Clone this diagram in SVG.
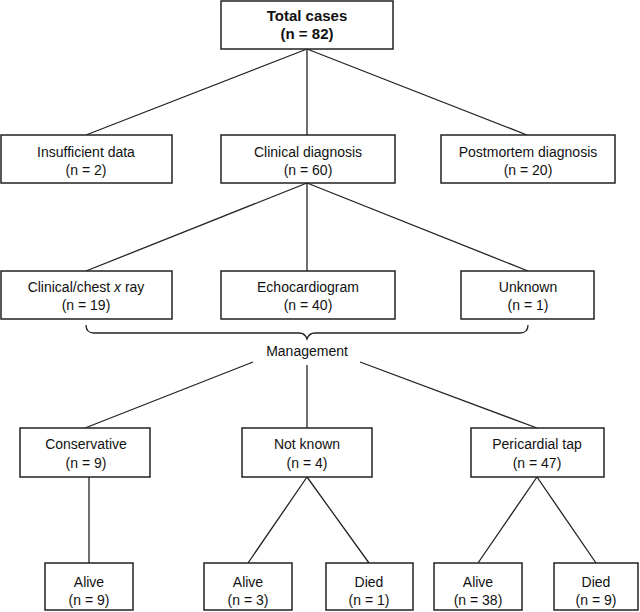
<svg xmlns="http://www.w3.org/2000/svg" width="640" height="612" viewBox="0 0 640 612">
<style>
.box{fill:#fff;stroke:#222;stroke-width:1.5}
.t{font-family:"Liberation Sans",Arial,sans-serif;font-size:14px;fill:#111;text-anchor:middle}
.b{font-weight:bold;font-size:15px}
.c{fill:none;stroke:#222;stroke-width:1.3}
</style>
<rect width="640" height="612" fill="#fff"/>
<g id="connectors">
<path class="c" d="M307,49 L86,135 M307,49 L307,135 M307,49 L527,135"/>
<path class="c" d="M307,183 L86,271 M307,183 L307,271 M307,183 L528,271"/>
<path class="c" d="M86,325 Q86,333 94,333 L299,333 Q305,333 307,339 Q309,333 315,333 L520,333 Q528,333 528,325"/>
<path class="c" d="M253,362 L85,428 M307,365 L307,428 M360,362 L537,428"/>
<path class="c" d="M89,477 L89,563"/>
<path class="c" d="M307,477 L248,563 M307,477 L369,563"/>
<path class="c" d="M537,477 L478,563 M537,477 L596,563"/>
</g>
<g id="total"><rect class="box" x="221" y="1" width="172" height="48"/><text class="t b" x="307" y="21">Total cases</text><text class="t b" x="307" y="39">(n = 82)</text></g>
<g id="insufficient"><rect class="box" x="1" y="135" width="171" height="48"/><text class="t" x="86" y="157">Insufficient data</text><text class="t" x="86" y="175">(n = 2)</text></g>
<g id="clinical"><rect class="box" x="221" y="135" width="174" height="48"/><text class="t" x="308" y="157">Clinical diagnosis</text><text class="t" x="308" y="175">(n = 60)</text></g>
<g id="postmortem"><rect class="box" x="441" y="135" width="174" height="48"/><text class="t" x="528" y="157">Postmortem diagnosis</text><text class="t" x="528" y="175">(n = 20)</text></g>
<g id="chestxray"><rect class="box" x="1" y="271" width="171" height="48"/><text class="t" x="86" y="292">Clinical/chest <tspan font-style="italic">x</tspan> ray</text><text class="t" x="86" y="310">(n = 19)</text></g>
<g id="echo"><rect class="box" x="221" y="271" width="174" height="48"/><text class="t" x="308" y="292">Echocardiogram</text><text class="t" x="308" y="310">(n = 40)</text></g>
<g id="unknown"><rect class="box" x="461" y="271" width="133" height="48"/><text class="t" x="528" y="292">Unknown</text><text class="t" x="528" y="310">(n = 1)</text></g>
<g id="management"><text class="t" x="307" y="356">Management</text></g>
<g id="conservative"><rect class="box" x="20" y="428" width="130" height="49"/><text class="t" x="86" y="449">Conservative</text><text class="t" x="86" y="468">(n = 9)</text></g>
<g id="notknown"><rect class="box" x="242" y="428" width="130" height="49"/><text class="t" x="307" y="449">Not known</text><text class="t" x="307" y="468">(n = 4)</text></g>
<g id="tap"><rect class="box" x="471" y="428" width="133" height="49"/><text class="t" x="537" y="449">Pericardial tap</text><text class="t" x="537" y="468">(n = 47)</text></g>
<g id="alive1"><rect class="box" x="45" y="563" width="88" height="47"/><text class="t" x="89" y="587">Alive</text><text class="t" x="89" y="605">(n = 9)</text></g>
<g id="alive2"><rect class="box" x="204" y="563" width="88" height="47"/><text class="t" x="248" y="587">Alive</text><text class="t" x="248" y="605">(n = 3)</text></g>
<g id="died1"><rect class="box" x="326" y="563" width="87" height="47"/><text class="t" x="369" y="587">Died</text><text class="t" x="369" y="605">(n = 1)</text></g>
<g id="alive3"><rect class="box" x="434" y="563" width="88" height="47"/><text class="t" x="478" y="587">Alive</text><text class="t" x="478" y="605">(n = 38)</text></g>
<g id="died2"><rect class="box" x="554" y="563" width="84" height="47"/><text class="t" x="596" y="587">Died</text><text class="t" x="596" y="605">(n = 9)</text></g>
</svg>
